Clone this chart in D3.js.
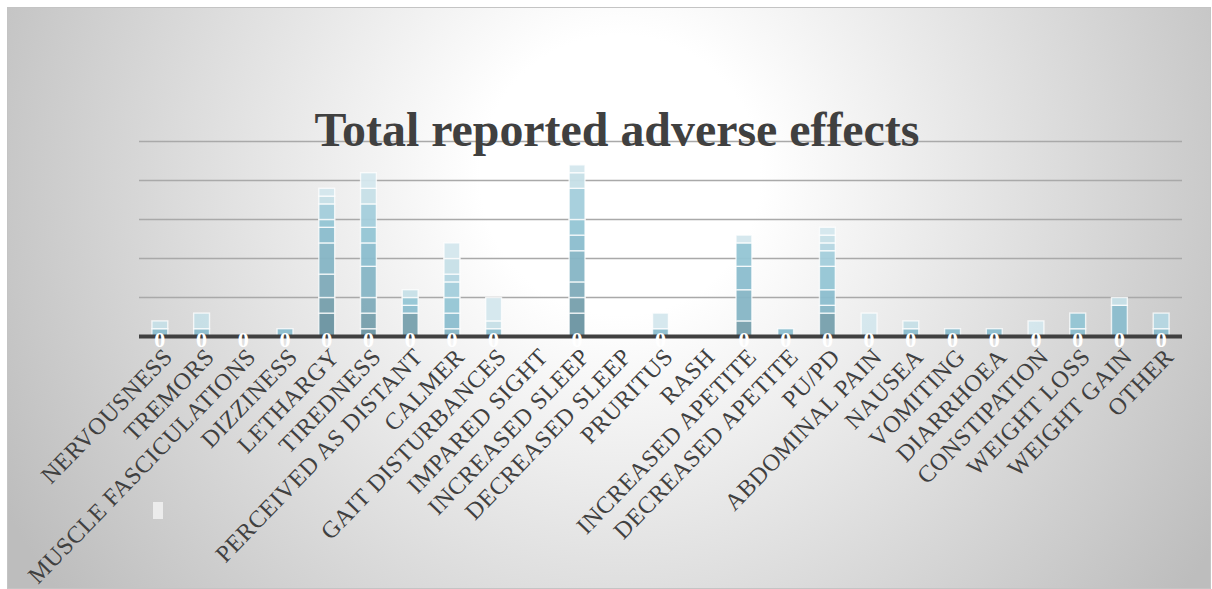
<!DOCTYPE html>
<html><head><meta charset="utf-8">
<script src="https://cdn.jsdelivr.net/npm/d3@7"></script>
<style>html,body{margin:0;padding:0;background:#fff;}svg{display:block;}</style>
</head><body>
<svg id="c" width="1212" height="589"></svg>
<script>
const categories = ["NERVOUSNESS","TREMORS","MUSCLE FASCICULATIONS","DIZZINESS","LETHARGY","TIREDNESS","PERCEIVED AS DISTANT","CALMER","GAIT DISTURBANCES","IMPARED SIGHT","INCREASED SLEEP","DECREASED SLEEP","PRURITUS","RASH","INCREASED APETITE","DECREASED APETITE","PU/PD","ABDOMINAL PAIN","NAUSEA","VOMITING","DIARRHOEA","CONSTIPATION","WEIGHT LOSS","WEIGHT GAIN","OTHER"];
const s0 = [0,0,0,0,3,1,0,0,0,0,3,0,0,0,0,0,0,0,0,0,0,0,0,0,0];
const s1 = [0,0,0,0,2,2,3,0,0,0,2,0,0,0,2,0,3,0,0,0,0,0,0,0,0];
const s2 = [0,0,0,0,3,2,0,0,0,0,2,0,0,0,0,0,0,0,0,0,0,0,0,0,0];
const s3 = [0,0,0,0,4,4,0,1,0,0,4,0,0,0,4,0,1,0,0,0,0,0,0,0,0];
const s4 = [1,1,0,1,2,3,1,2,1,0,2,0,1,0,3,1,2,0,1,1,1,0,1,4,1];
const s5 = [0,0,0,0,1,2,1,2,0,0,2,0,0,0,3,0,3,0,0,0,0,0,2,0,0];
const s6 = [0,0,0,0,2,3,0,2,0,0,4,0,0,0,0,0,2,0,0,0,0,0,0,0,0];
const s7 = [0,0,0,0,0,0,0,1,0,0,0,0,0,0,0,0,1,0,0,0,0,0,0,0,2];
const s8 = [1,2,0,0,1,2,1,2,1,0,2,0,0,0,0,0,1,0,1,0,0,0,0,1,0];
const s9 = [0,0,0,0,1,2,0,2,3,0,1,0,2,0,1,0,1,3,0,0,0,2,0,0,0];
const seriesList = [s0,s1,s2,s3,s4,s5,s6,s7,s8,s9];
const seriesColors = ["#6a93a1","#769fac","#80abb9","#86b5c5","#8bbdcd","#94c5d4","#a3cedb","#b4d6e1","#c6dfe7","#d4e7ed"];
const zeroLabels = ["0","0","0","0","0","0","0","0","0","","0","","0","","0","0","0","0","0","0","0","0","0","0","0"];
const yTicks = [0,5,10,15,20,25];
const titleText = "Total reported adverse effects";

const svg = d3.select("#c");
const defs = svg.append("defs");
const grad = defs.append("radialGradient").attr("id","bg").attr("gradientUnits","userSpaceOnUse")
  .attr("cx",620).attr("cy",175).attr("r",700);
grad.append("stop").attr("offset","0").attr("stop-color","#ffffff");
grad.append("stop").attr("offset","0.2").attr("stop-color","#ffffff");
grad.append("stop").attr("offset","1").attr("stop-color","#bdbdbd");

svg.append("rect").attr("x",7.5).attr("y",7.5).attr("width",1203).attr("height",581)
  .attr("fill","url(#bg)").attr("stroke","#c4c4c4").attr("stroke-width",1);

const x = d3.scaleBand().domain(categories).range([139,1182]).paddingInner(0.62).paddingOuter(0.31);
const y = d3.scaleLinear().domain([0,25]).range([336.5,141.5]);

// gridlines
svg.append("g").selectAll("line").data(yTicks.filter(d=>d>0)).join("line")
  .attr("x1",139).attr("x2",1182).attr("y1",d=>y(d)).attr("y2",d=>y(d))
  .attr("stroke","#a9a9a9").attr("stroke-width",1.5);

// title
const title = svg.append("text").attr("x",617).attr("y",146).attr("text-anchor","middle")
  .attr("font-family","'Liberation Serif','Times New Roman',serif").attr("font-weight","bold")
  .attr("font-size",48).attr("fill","#404040").text(titleText);
const tl = title.node().getComputedTextLength();
title.attr("font-size", 48*605/tl);

// stacked bars
const rows = categories.map((c,i)=>{const o={cat:c}; seriesList.forEach((s,k)=>o["s"+k]=s[i]); return o;});
const keys = seriesList.map((s,k)=>"s"+k);
const stacked = d3.stack().keys(keys)(rows);
const gBars = svg.append("g");
stacked.forEach((layer,k)=>{
  gBars.append("g").attr("fill",seriesColors[k]).selectAll("rect")
    .data(layer.filter(d=>d[1]-d[0]>0)).join("rect")
    .attr("x",d=>x(d.data.cat)).attr("width",x.bandwidth())
    .attr("y",d=>y(d[1])).attr("height",d=>y(d[0])-y(d[1]))
    .attr("fill-opacity",0.95)
    .attr("stroke","#ffffff").attr("stroke-opacity",0.75).attr("stroke-width",1.4);
});

// baseline axis
svg.append("line").attr("x1",139).attr("x2",1182).attr("y1",y(0)).attr("y2",y(0))
  .attr("stroke","#404040").attr("stroke-width",4);

// category labels
svg.append("g").selectAll("text").data(categories).join("text")
  .attr("transform",d=>`translate(${x(d)+x.bandwidth()/2+14},${358}) rotate(-46)`)
  .attr("text-anchor","end")
  .attr("font-family","'Liberation Serif','Times New Roman',serif").attr("font-size",24)
  .attr("letter-spacing",0.6)
  .attr("fill","#404040").text(d=>d);

// zero labels
svg.append("g").selectAll("text").data(categories).join("text")
  .attr("x",d=>x(d)+x.bandwidth()/2).attr("y",347).attr("text-anchor","middle")
  .attr("font-family","'Liberation Serif',serif").attr("font-weight","bold").attr("font-size",22)
  .attr("fill","#ffffff").text((d,i)=>zeroLabels[i]);

// legend swatch
svg.append("rect").attr("x",153).attr("y",502).attr("width",10).attr("height",17).attr("fill","#ececec");
</script>
</body></html>
